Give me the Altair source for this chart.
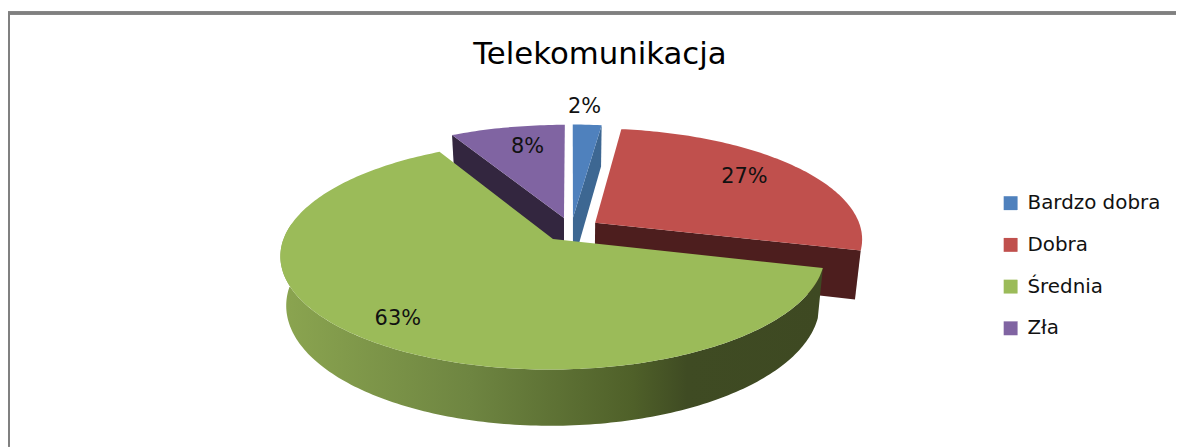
import math
import altair as alt
import pandas as pd

# Chart values
categories = ["Bardzo dobra", "Dobra", "Średnia", "Zła"]
shares = [2, 27, 63, 8]
labels = ["2%", "27%", "63%", "8%"]
top_colors = ["#4f81bd", "#c0504d", "#9bbb59", "#8064a2"]
cut_colors = ["#3d6792", "#4d1e1e", "#3e4a22", "#33263f"]
label_radius = [1.22, 0.76, 0.83, 0.75]
label_angle = [2.5, 53.0, 218.5, 348.0]

# Pie geometry (3D perspective of an exploded pie)
CX, CY, RX, RY, PERSP, DEPTH, EXPLODE = 575, 229.5, 268, 110, 0.14, 48, 0.11
W, H = 1176, 440


def project(u, v, z=0):
    w = 1 + PERSP * v
    return (CX + RX * u / w * (1 - 0.02 * z), CY - RY * v / w + DEPTH * z / w)


starts = []
run = 0
for s in shares:
    starts.append(run * 3.6)
    run += s
ends = [a + s * 3.6 for a, s in zip(starts, shares)]


def offset(i):
    b = math.radians((starts[i] + ends[i]) / 2)
    return EXPLODE * math.sin(b), EXPLODE * math.cos(b)


def rim(i, deg, z=0):
    ou, ov = offset(i)
    t = math.radians(deg)
    return project(ou + math.sin(t), ov + math.cos(t), z)


def apex(i, z=0):
    return project(*offset(i), z)


def sweep(a, b, step=1.0):
    n = max(2, int(abs(b - a) / step))
    return [a + (b - a) * k / n for k in range(n + 1)]


def poly(points, fill):
    df = pd.DataFrame(points, columns=["px", "py"])
    df["i"] = range(len(df))
    return alt.Chart(df).mark_line(fill=fill, strokeWidth=0).encode(
        x=alt.X("px:Q", scale=X_SCALE, axis=None),
        y=alt.Y("py:Q", scale=Y_SCALE, axis=None),
        order="i:Q",
    )


X_SCALE = alt.Scale(domain=[8, 8 + W], nice=False, zero=False)
Y_SCALE = alt.Scale(domain=[8 + H, 8], nice=False, zero=False)


def top(i):
    return poly([apex(i)] + [rim(i, d) for d in sweep(starts[i], ends[i])], top_colors[i])


def cut(i, deg):
    return poly([apex(i), rim(i, deg), rim(i, deg, 1), apex(i, 1)], cut_colors[i])


wall_gradient = alt.Gradient(
    gradient="linear", x1=0, y1=0, x2=1, y2=0,
    stops=[
        alt.GradientStop(color="#8ba550", offset=0),
        alt.GradientStop(color="#6e8541", offset=0.35),
        alt.GradientStop(color="#4f6029", offset=0.65),
        alt.GradientStop(color="#3f4b23", offset=0.75),
        alt.GradientStop(color="#3e4922", offset=1),
    ],
)
arc_deg = sweep(starts[2], 278)
green_wall = poly(
    [rim(2, d) for d in arc_deg] + [rim(2, d, 1) for d in reversed(arc_deg)],
    wall_gradient,
)

label_pos = []
for i in range(4):
    ou, ov = offset(i)
    t = math.radians(label_angle[i])
    label_pos.append(project(ou + label_radius[i] * math.sin(t), ov + label_radius[i] * math.cos(t)))

label_df = pd.DataFrame({
    "cat": categories,
    "lab": labels,
    "px": [p[0] for p in label_pos],
    "py": [p[1] for p in label_pos],
})

legend_layer = alt.Chart(label_df).mark_square(opacity=0).encode(
    x=alt.X("px:Q", scale=X_SCALE, axis=None),
    y=alt.Y("py:Q", scale=Y_SCALE, axis=None),
    color=alt.Color(
        "cat:N",
        scale=alt.Scale(domain=categories, range=top_colors),
        sort=categories,
        legend=alt.Legend(
            title=None, orient="none", legendX=999.5, legendY=185,
            symbolType="square", symbolSize=196, symbolOpacity=1, symbolStrokeWidth=0,
            labelFont="DejaVu Sans", labelFontSize=20, labelColor="#111111",
            labelOffset=7, rowPadding=22, labelLimit=200, padding=0,
        ),
    ),
)

text_layer = alt.Chart(label_df).mark_text(
    font="DejaVu Sans", fontSize=21, color="#111111", baseline="middle", align="center"
).encode(
    x=alt.X("px:Q", scale=X_SCALE, axis=None),
    y=alt.Y("py:Q", scale=Y_SCALE, axis=None),
    text="lab:N",
)

frame_top = alt.Chart(label_df).mark_rule(color="#808080", strokeWidth=3).encode(
    x=alt.value(0), x2=alt.value(W), y=alt.value(3.5)
)
frame_left = alt.Chart(label_df).mark_rule(color="#808080", strokeWidth=2).encode(
    y=alt.value(3), y2=alt.value(H), x=alt.value(1)
)

chart = alt.layer(
    frame_top, frame_left,
    cut(3, starts[3]), top(3),
    cut(0, ends[0]), top(0),
    cut(1, ends[1]), top(1),
    green_wall, top(2),
    legend_layer, text_layer,
).properties(
    width=W, height=H, padding=0, autosize="none",
    title=alt.TitleParams(
        "Telekomunikacja", font="DejaVu Sans", fontSize=31, fontWeight="normal",
        color="#000000", anchor="middle", dx=8, offset=-62,
    ),
).configure_view(stroke=None)

chart.save("out.html", embed_options={"renderer": "svg", "actions": False})
